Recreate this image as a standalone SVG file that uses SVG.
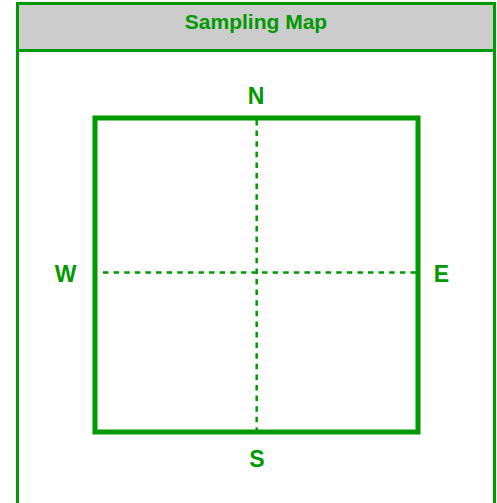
<svg xmlns="http://www.w3.org/2000/svg" width="497" height="503" viewBox="0 0 497 503">
  <style>
    .frame { fill: none; stroke: #009900; stroke-width: 3; }
    .header { fill: #cccccc; stroke: #009900; stroke-width: 3; }
    .title { font-family: "Liberation Sans", Arial, sans-serif; font-weight: bold; font-size: 21px; fill: #009900; text-anchor: middle; }
    .lbl { font-family: "Liberation Sans", Arial, sans-serif; font-weight: bold; font-size: 23px; fill: #009900; text-anchor: middle; }
    .square { fill: none; stroke: #009900; stroke-width: 5; }
    .dash { fill: none; stroke: #009900; stroke-width: 2.5; stroke-dasharray: 5.5 5.1; }
  </style>
  <rect width="497" height="503" fill="#ffffff"/>
  <g id="frame">
    <rect class="frame" x="17.5" y="3.5" width="477" height="520"/>
    <rect class="header" x="17.5" y="3.5" width="477" height="47"/>
    <text class="title" x="256" y="29">Sampling Map</text>
  </g>
  <g id="map">
    <rect class="square" x="95" y="118" width="323" height="314"/>
  </g>
  <g id="connectors">
    <line class="dash" x1="256.7" y1="120" x2="256.7" y2="430"/>
    <line class="dash" x1="103" y1="272.5" x2="416" y2="272.5"/>
  </g>
  <g id="label-N"><text class="lbl" x="256" y="103.5">N</text></g>
  <g id="label-W"><text class="lbl" x="65.5" y="281.5">W</text></g>
  <g id="label-E"><text class="lbl" x="441.5" y="281.5">E</text></g>
  <g id="label-S"><text class="lbl" x="257" y="467">S</text></g>
</svg>
